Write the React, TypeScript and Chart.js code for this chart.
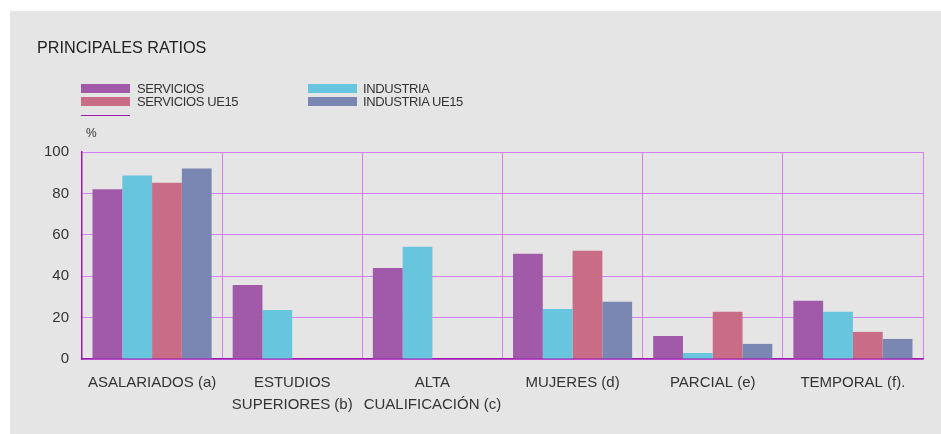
import React, { useEffect, useRef } from "react";
import { Chart, registerables } from "chart.js";

Chart.register(...registerables);

const categories: (string | string[])[] = [
  "ASALARIADOS (a)",
  ["ESTUDIOS", "SUPERIORES (b)"],
  ["ALTA", "CUALIFICACIÓN (c)"],
  "MUJERES (d)",
  "PARCIAL (e)",
  "TEMPORAL (f).",
];

const servicios = [82, 35.8, 44, 50.8, 11.1, 28.1];
const industria = [88.6, 23.7, 54.2, 24.2, 2.9, 22.8];
const serviciosUE15 = [85.2, null, null, 52.3, 22.8, 13.1];
const industriaUE15 = [92, null, null, 27.6, 7.3, 9.7];

const seriesNames = ["SERVICIOS", "INDUSTRIA", "SERVICIOS UE15", "INDUSTRIA UE15"];
const seriesColors = ["#a05aa8", "#68c5de", "#c96d87", "#7a87b2"];

const yTicks = [0, 20, 40, 60, 80, 100];

const FONT = "'Liberation Sans', Arial, Helvetica, sans-serif";
const TEXT = "#333333";
const GRID = "#d47ef7";
const AXIS = "#9b1aa8";

export default function App() {
  const ref = useRef<HTMLCanvasElement>(null);

  useEffect(() => {
    if (!ref.current) return;
    const chart = new Chart(ref.current, {
      type: "bar",
      data: {
        labels: categories,
        datasets: [servicios, industria, serviciosUE15, industriaUE15].map((d, i) => ({
          label: seriesNames[i],
          data: d,
          backgroundColor: seriesColors[i],
          borderWidth: 0,
          categoryPercentage: 0.85,
          barPercentage: 1,
        })),
      },
      options: {
        responsive: false,
        animation: false,
        layout: { padding: { top: 152, right: 18, bottom: 0, left: 0 } },
        plugins: { legend: { display: false }, tooltip: { enabled: false }, title: { display: false } },
        scales: {
          x: {
            grid: { offset: true, color: GRID, lineWidth: 1, drawTicks: false },
            border: { color: AXIS, width: 1.5 },
            ticks: {
              color: TEXT,
              padding: 13,
              maxRotation: 0,
              autoSkip: false,
              font: { family: FONT, size: 15, lineHeight: 22 / 15 },
            },
            afterFit: (s: any) => {
              s.height = 75;
            },
          },
          y: {
            min: 0,
            max: 100,
            afterBuildTicks: (s: any) => {
              s.ticks = yTicks.map((v) => ({ value: v }));
            },
            grid: { color: GRID, lineWidth: 1, drawTicks: false },
            border: { color: AXIS, width: 1.5 },
            ticks: {
              color: TEXT,
              padding: 13,
              font: { family: FONT, size: 15 },
            },
            afterFit: (s: any) => {
              s.width = 82;
            },
          },
        },
      },
    });
    return () => chart.destroy();
  }, []);

  const legendText: React.CSSProperties = {
    position: "absolute",
    fontFamily: FONT,
    fontSize: 13,
    letterSpacing: "-0.4px",
    color: TEXT,
    lineHeight: "13px",
    whiteSpace: "nowrap",
  };

  const legendPos = [
    { bx: 81, by: 84, tx: 137 },
    { bx: 308, by: 84, tx: 363 },
    { bx: 81, by: 97, tx: 137 },
    { bx: 308, by: 97, tx: 363 },
  ];

  return (
    <div style={{ position: "fixed", left: 0, top: 0, width: 941, height: 434, overflow: "hidden" }}>
      <div style={{ position: "absolute", left: 10, top: 11, right: 0, bottom: 0, background: "#e5e5e5" }} />
      <canvas
        ref={ref}
        width={941}
        height={434}
        style={{ position: "absolute", left: 0, top: 0, width: 941, height: 434 }}
      />
      <div
        style={{
          position: "absolute",
          left: 37,
          top: 38,
          fontFamily: FONT,
          fontSize: 16.2,
          color: "#222",
          lineHeight: "18px",
          whiteSpace: "nowrap",
        }}
      >
        PRINCIPALES RATIOS
      </div>
      {seriesNames.map((name, i) => {
        const p = legendPos[i];
        return (
          <React.Fragment key={name}>
            <div
              style={{
                position: "absolute",
                left: p.bx,
                top: p.by,
                width: 49,
                height: 9,
                background: seriesColors[i],
              }}
            />
            <div style={{ ...legendText, left: p.tx, top: p.by - 2 }}>{name}</div>
          </React.Fragment>
        );
      })}
      <div style={{ position: "absolute", left: 81, top: 115, width: 49, height: 1, background: AXIS }} />
      <div style={{ ...legendText, left: 86, top: 127, fontSize: 12, letterSpacing: 0 }}>%</div>
    </div>
  );
}
